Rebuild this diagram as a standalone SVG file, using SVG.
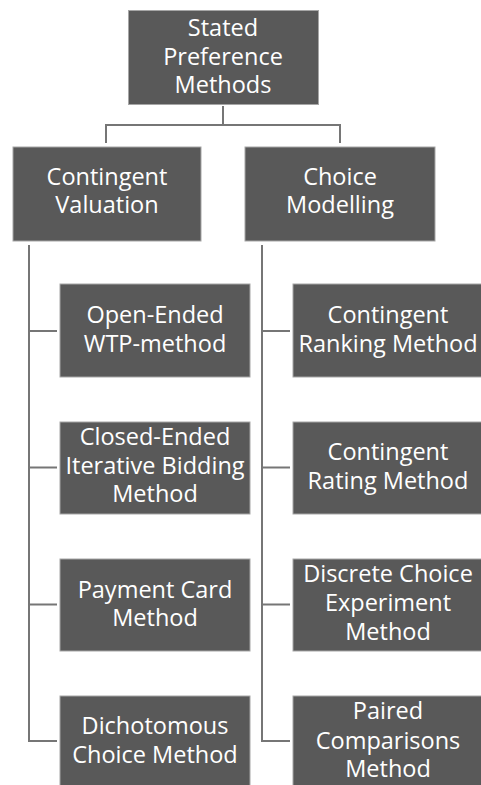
<svg xmlns="http://www.w3.org/2000/svg" width="481" height="785" viewBox="0 0 481 785">
<style>
.box{fill:#595959;stroke:#a6a6a6;stroke-width:1}
.t{font-family:"Open Sans","Noto Sans","Liberation Sans",sans-serif;font-size:23.5px;fill:#ffffff;text-anchor:middle}
.c{fill:none;stroke:#767676;stroke-width:2}
</style>
<rect width="481" height="785" fill="#ffffff"/>
<g id="connectors">
<path class="c" d="M223 106V125M106 143V125H340V143"/>
<path class="c" d="M29 245V741H57M29 331H57M29 467.5H57M29 604.5H57"/>
<path class="c" d="M262 245V741H290M262 331H290M262 467.5H290M262 604.5H290"/>
</g>
<g id="n-root"><rect class="box" x="128.5" y="10.5" width="190" height="94"/>
<text class="t" x="223" y="35.5">Stated</text><text class="t" x="223" y="64.5">Preference</text><text class="t" x="223" y="93">Methods</text></g>
<g id="n-cv"><rect class="box" x="13" y="147" width="188" height="94"/>
<text class="t" x="107" y="185">Contingent</text><text class="t" x="107" y="213">Valuation</text></g>
<g id="n-cm"><rect class="box" x="245" y="147" width="190" height="94"/>
<text class="t" x="340" y="185">Choice</text><text class="t" x="340" y="213">Modelling</text></g>
<g id="n-oe"><rect class="box" x="60" y="284" width="190" height="93"/>
<text class="t" x="155" y="323">Open-Ended</text><text class="t" x="155" y="352">WTP-method</text></g>
<g id="n-ce"><rect class="box" x="60" y="422" width="190" height="92"/>
<text class="t" x="155" y="445">Closed-Ended</text><text class="t" x="155" y="473.5">Iterative Bidding</text><text class="t" x="155" y="502">Method</text></g>
<g id="n-pc"><rect class="box" x="60" y="559" width="190" height="92"/>
<text class="t" x="155" y="597.5">Payment Card</text><text class="t" x="155" y="626">Method</text></g>
<g id="n-dc"><rect class="box" x="60" y="696" width="190" height="95"/>
<text class="t" x="155" y="733.5">Dichotomous</text><text class="t" x="155" y="762.5">Choice Method</text></g>
<g id="n-cr"><rect class="box" x="293" y="284" width="192" height="93"/>
<text class="t" x="388" y="323">Contingent</text><text class="t" x="388" y="352">Ranking Method</text></g>
<g id="n-crt"><rect class="box" x="293" y="422" width="192" height="92"/>
<text class="t" x="388" y="460">Contingent</text><text class="t" x="388" y="488.5">Rating Method</text></g>
<g id="n-dce"><rect class="box" x="293" y="559" width="192" height="92"/>
<text class="t" x="388" y="581.5">Discrete Choice</text><text class="t" x="388" y="610.5">Experiment</text><text class="t" x="388" y="639.5">Method</text></g>
<g id="n-pcm"><rect class="box" x="293" y="696" width="192" height="95"/>
<text class="t" x="388" y="719">Paired</text><text class="t" x="388" y="749">Comparisons</text><text class="t" x="388" y="777">Method</text></g>
</svg>
